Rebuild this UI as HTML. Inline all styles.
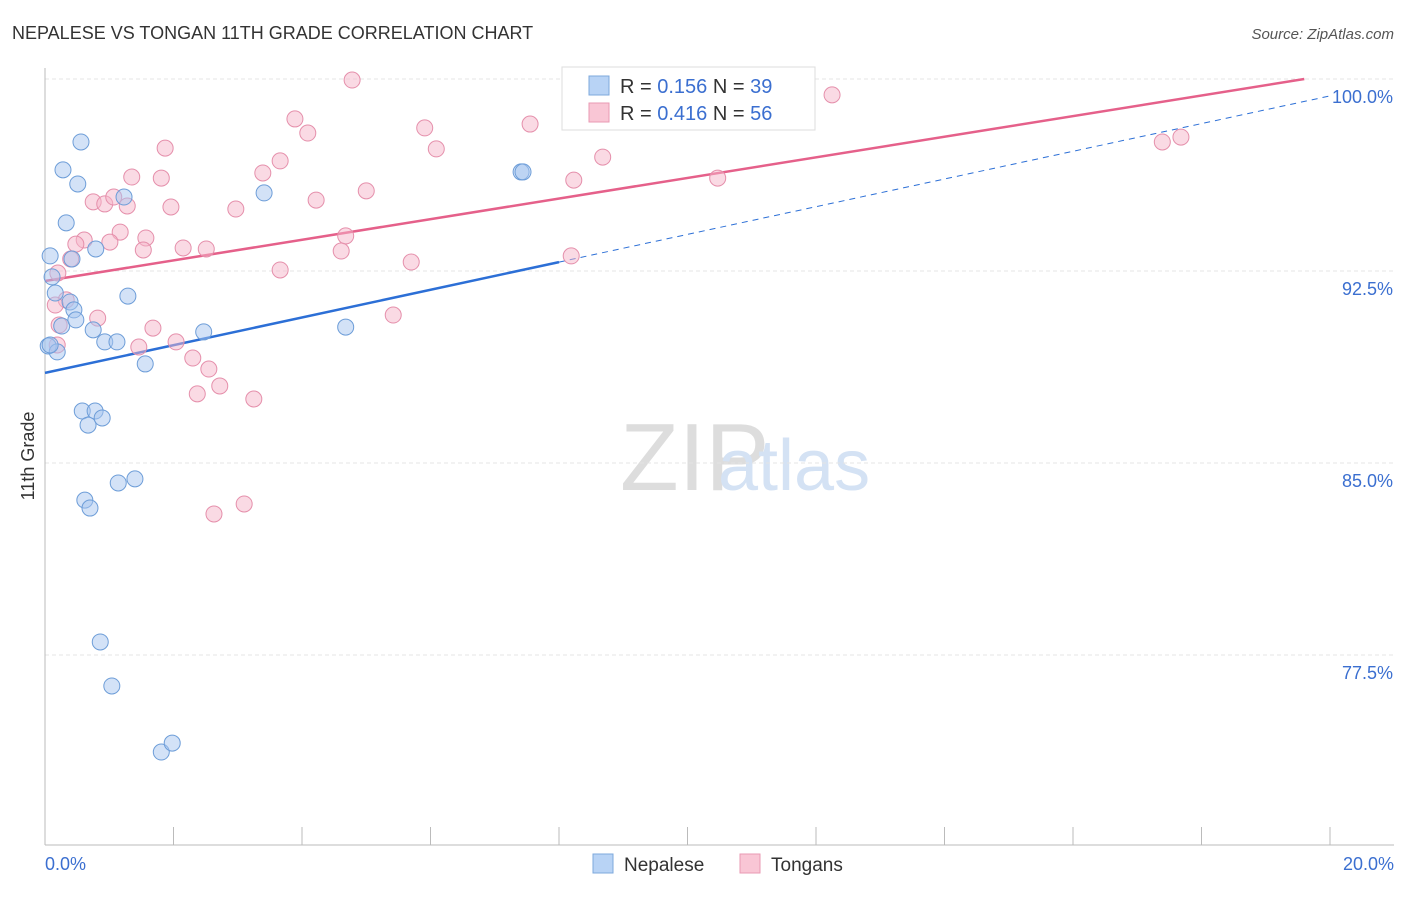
<!DOCTYPE html>
<html><head><meta charset="utf-8"><style>
body{margin:0;background:#fff;font-family:"Liberation Sans",sans-serif;}
svg text{font-family:"Liberation Sans",sans-serif;}
</style></head><body>
<svg id="chart" width="1406" height="892" viewBox="0 0 1406 892">
<text x="12" y="39" font-size="18" fill="#333">NEPALESE VS TONGAN 11TH GRADE CORRELATION CHART</text>
<text x="1394" y="39" font-size="15" fill="#555" text-anchor="end" font-style="italic">Source: ZipAtlas.com</text>
<text x="620" y="490" font-size="96" fill="#ddd" font-family="Liberation Serif">ZIP</text>
<text x="718" y="490" font-size="72" fill="#d4e2f4">atlas</text>
<text transform="translate(34,456) rotate(-90)" font-size="18" fill="#333" text-anchor="middle">11th Grade</text>
<g id="grid"></g><g id="axes"></g><g id="lines"></g><g id="pts"></g>
<g>
<rect x="562" y="67" width="253" height="63" fill="#fff" stroke="#ddd"/>
<rect x="589" y="76" width="20" height="19" fill="#b8d3f5" stroke="#7ea8dc"/>
<rect x="589" y="103" width="20" height="19" fill="#f9c6d5" stroke="#e99ab3"/>
<text x="620" y="93" font-size="20" fill="#333">R = <tspan fill="#3b6fd0">0.156</tspan>   N = <tspan fill="#3b6fd0">39</tspan></text>
<text x="620" y="120" font-size="20" fill="#333">R = <tspan fill="#3b6fd0">0.416</tspan>   N = <tspan fill="#3b6fd0">56</tspan></text>
</g>
<g>
<rect x="593" y="854" width="20" height="19" fill="#b8d3f5" stroke="#7ea8dc"/>
<text x="624" y="871" font-size="19" fill="#333">Nepalese</text>
<rect x="740" y="854" width="20" height="19" fill="#f9c6d5" stroke="#e99ab3"/>
<text x="771" y="871" font-size="19" fill="#333">Tongans</text>
</g>
</svg>
<script>
const blueX=[.08,.11,.16,.26,.05,.19,.33,.28,.56,.51,.39,.42,.45,.48,.75,.79,.93,1.12,1.23,1.29,1.56,.58,.78,.67,.89,.62,.70,1.14,1.40,.86,1.04,1.81,1.98,2.47,3.41,4.68,7.41,7.44,.08];
const blueY=[93.09,92.27,91.64,90.35,89.57,89.34,94.38,96.45,97.54,95.90,91.29,92.97,90.98,90.59,90.20,93.36,89.73,89.73,95.39,91.52,88.87,87.03,87.03,86.48,86.76,83.55,83.24,84.22,84.38,78.01,76.29,73.71,74.06,90.12,95.55,90.31,96.37,96.37,89.61];
const pinkX=[4.78,3.89,4.09,5.91,7.55,6.09,8.68,8.23,10.47,12.25,17.39,17.68,1.87,1.35,1.81,.75,.93,1.28,1.07,1.96,2.97,3.39,3.66,4.22,5.00,3.66,4.68,4.61,5.70,8.19,5.42,1.17,1.57,1.01,.61,.48,2.15,2.51,1.53,.40,.20,.33,.16,.22,.82,1.68,2.04,1.46,2.30,2.55,2.72,2.37,3.25,2.63,3.10,.19];
const pinkY=[99.96,98.44,97.89,98.09,98.24,97.27,96.95,96.05,96.13,99.38,97.54,97.73,97.30,96.17,96.13,95.20,95.12,95.04,95.39,95.00,94.92,96.33,96.80,95.27,95.63,92.54,93.87,93.28,92.85,93.09,90.78,94.02,93.79,93.63,93.71,93.55,93.40,93.36,93.32,92.97,92.42,91.37,91.17,90.39,90.66,90.27,89.73,89.53,89.10,88.67,88.01,87.70,87.50,83.01,83.40,89.61];
const yTicks=[100,92.5,85,77.5];
const yTickLabels=["100.0%","92.5%","85.0%","77.5%"];
const xTicks=[0,2,4,6,8,10,12,14,16,18,20];
const blueFit=[88.52,0.541];
const pinkFit=[92.11,0.4025];
const X=v=>45+v*64.25, Y=v=>79+(100-v)*25.6;
const NS="http://www.w3.org/2000/svg";
function mk(p,t,a){const e=document.createElementNS(NS,t);for(const k in a)e.setAttribute(k,a[k]);document.getElementById(p).appendChild(e);return e;}
yTicks.forEach((v,i)=>{
 const g=mk('grid','line',{x1:45,x2:1394,y1:Y(v),y2:Y(v),stroke:'#e4e4e4','stroke-dasharray':'4,3'});
 
 
 const t=mk('axes','text',{x:1393,y:Y(v)+24,'font-size':18,fill:'#3b6fd0','text-anchor':'end'});
 t.textContent=yTickLabels[i];
 
 
});
const gl=mk('grid','line',{x1:45,x2:1394,y1:79,y2:79,stroke:'#e4e4e4','stroke-dasharray':'4,3'});


const ya=mk('axes','line',{x1:45,x2:45,y1:68,y2:845,stroke:'#bbb'});


const xa=mk('axes','line',{x1:45,x2:1394,y1:845,y2:845,stroke:'#bbb'});


xTicks.forEach(v=>{const t=mk('axes','line',{x1:X(v),x2:X(v),y1:827,y2:845,stroke:'#bbb'});
 
 });
const l0=mk('axes','text',{x:45,y:870,'font-size':18,fill:'#3b6fd0'});l0.textContent='0.0%';


const l1=mk('axes','text',{x:1394,y:870,'font-size':18,fill:'#3b6fd0','text-anchor':'end'});l1.textContent='20.0%';


function pts(xs,ys,fill,stroke,name){xs.forEach((x,i)=>{const c=mk('pts','circle',{cx:X(x),cy:Y(ys[i]),r:8,fill:fill,'fill-opacity':0.5,stroke:stroke,'stroke-width':1});
 
 });}
pts(pinkX,pinkY,'#f6b6ca','#e58fab','tongans-point');
pts(blueX,blueY,'#a7c6ef','#6d9dd8','nepalese-point');
const bl=mk('lines','line',{x1:X(0),y1:Y(blueFit[0]),x2:X(8),y2:Y(blueFit[0]+8*blueFit[1]),stroke:'#2c6fd6','stroke-width':2.5});


const bd=mk('lines','line',{x1:X(8),y1:Y(blueFit[0]+8*blueFit[1]),x2:X(20),y2:Y(blueFit[0]+20*blueFit[1]),stroke:'#2c6fd6','stroke-width':1,'stroke-dasharray':'6,5'});


const pl=mk('lines','line',{x1:X(0),y1:Y(pinkFit[0]),x2:X(19.6),y2:Y(pinkFit[0]+19.6*pinkFit[1]),stroke:'#e5608a','stroke-width':2.5});


</script>
</body></html>
